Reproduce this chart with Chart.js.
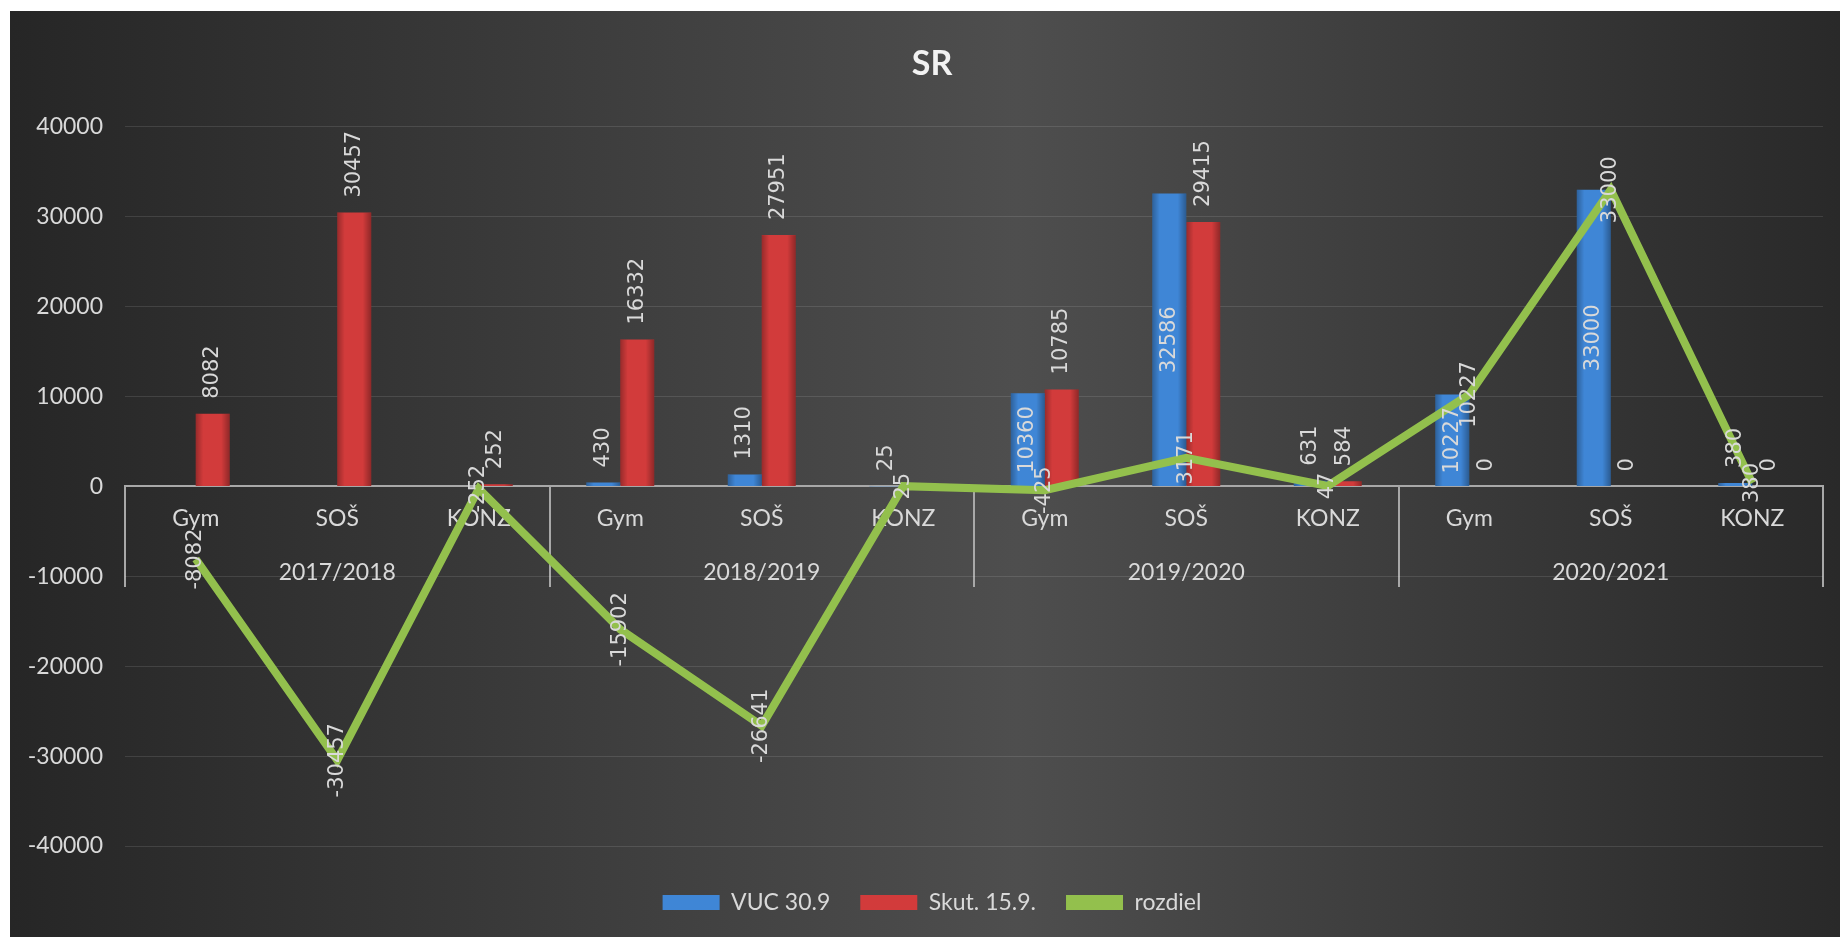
<!DOCTYPE html>
<html>
<head>
<meta charset="utf-8">
<script src="https://cdn.jsdelivr.net/npm/chart.js@4.4.0/dist/chart.umd.min.js"></script>
<style>
  html, body { margin: 0; padding: 0; background: #fff; }
  #wrap { position: absolute; left: 10px; top: 11px; width: 1830px; height: 926px; }
</style>
</head>
<body>
<div id="wrap"><canvas id="graf" width="1830" height="926"></canvas></div>
<script>
//------------------------------------------------- DATA -----------------------------------------------------
let skoly = ['Gym', 'SOŠ', 'KONZ', 'Gym', 'SOŠ', 'KONZ', 'Gym', 'SOŠ', 'KONZ', 'Gym', 'SOŠ', 'KONZ']
let roky = ['2017/2018', '2018/2019', '2019/2020', '2020/2021']
let vuc = [null, null, null, 430, 1310, 25, 10360, 32586, 631, 10227, 33000, 380]
let skut = [8082, 30457, 252, 16332, 27951, null, 10785, 29415, 584, 0, 0, 0]
let rozdiel = [-8082, -30457, -252, -15902, -26641, 25, -425, 3171, 47, 10227, 33000, 380]
let osMin = -40000
let osMax = 40000
let osKrok = 10000

const farbaTextu = '#d9d9d9'
const pismo = 'Lato'

// pozadie grafu (tmavy prechod)
const pozadie = {
    id: 'pozadie',
    beforeDraw(chart) {
        const { ctx, width, height } = chart
        const g = ctx.createLinearGradient(0, 0, width, 0)
        g.addColorStop(0, '#262626')
        g.addColorStop(0.55, '#4e4e4e')
        g.addColorStop(1, '#292929')
        ctx.save()
        ctx.fillStyle = g
        ctx.fillRect(0, 0, width, height)
        ctx.restore()
    },
    // popisky osi Y sa nesmu orezat
    afterLayout(chart) {
        chart.scales.y.left = 0
    }
}

// tien na okrajoch stlpcov
const tien = {
    id: 'tien',
    afterDatasetDraw(chart, args) {
        const meta = args.meta
        if (meta.type !== 'bar') return
        const ctx = chart.ctx
        ctx.save()
        meta.data.forEach((el, j) => {
            if (chart.data.datasets[args.index].data[j] === null) return
            const w = el.width
            const g = ctx.createLinearGradient(el.x - w / 2, 0, el.x + w / 2, 0)
            g.addColorStop(0, 'rgba(0,0,0,0.28)')
            g.addColorStop(0.22, 'rgba(0,0,0,0)')
            g.addColorStop(0.75, 'rgba(0,0,0,0)')
            g.addColorStop(1, 'rgba(0,0,0,0.32)')
            ctx.fillStyle = g
            ctx.fillRect(el.x - w / 2, Math.min(el.y, el.base), w, Math.abs(el.base - el.y))
        })
        ctx.restore()
    }
}

// popisky hodnot (otocene o 90 stupnov)
const popisky = {
    id: 'popisky',
    afterDatasetsDraw(chart) {
        const ctx = chart.ctx
        ctx.save()
        ctx.font = '21px "DejaVu Sans"'
        ctx.fillStyle = farbaTextu
        ctx.textBaseline = 'middle'
        chart.data.datasets.forEach((ds, i) => {
            const meta = chart.getDatasetMeta(i)
            meta.data.forEach((el, j) => {
                const v = ds.data[j]
                if (v === null) return
                const txt = String(v)
                const w = ctx.measureText(txt).width
                let y, align
                if (meta.type === 'line') {
                    y = el.y
                    align = 'center'
                } else {
                    const h = el.base - el.y
                    if (i === 0 && h > w + 12) {
                        y = (el.y + el.base) / 2
                        align = 'center'
                    } else {
                        y = el.y - 15
                        align = 'left'
                    }
                }
                ctx.save()
                ctx.translate(el.x, y)
                ctx.rotate(-Math.PI / 2)
                ctx.textAlign = align
                ctx.fillText(txt, 0, 0)
                ctx.restore()
            })
        })
        ctx.restore()
    }
}

const canvas = document.getElementById('graf')
const ctx = canvas.getContext('2d')

const config = {
    type: 'bar',
    data: {
        labels: skoly,
        datasets: [{
            label: 'VUC 30.9',
            data: vuc,
            backgroundColor: '#3f86d6',
            order: 1
        }, {
            label: 'Skut. 15.9.',
            data: skut,
            backgroundColor: '#d23b3b',
            order: 1
        }, {
            type: 'line',
            label: 'rozdiel',
            data: rozdiel,
            borderColor: '#93c04d',
            backgroundColor: '#93c04d',
            borderWidth: 8,
            borderJoinStyle: 'miter',
            pointRadius: 0,
            tension: 0,
            order: 0
        }]
    },
    options: {
        responsive: false,
        animation: false,
        layout: { padding: { left: 31, right: 17, top: 0, bottom: 13 } },
        datasets: {
            bar: { categoryPercentage: 0.48, barPercentage: 1.0 }
        },
        scales: {
            x: {
                position: { y: 0 },
                grid: { display: true, drawOnChartArea: false, drawTicks: false },
                border: { display: true, color: '#a8a8a8', width: 2 },
                ticks: {
                    color: farbaTextu, font: { family: pismo, size: 23 },
                    padding: 18, autoSkip: false, maxRotation: 0
                }
            },
            x2: {
                type: 'category',
                labels: roky,
                offset: true,
                position: { y: 0 },
                grid: {
                    display: true, offset: true, drawOnChartArea: false,
                    drawTicks: true, tickLength: 101, color: '#a8a8a8', lineWidth: 2
                },
                border: { display: false },
                ticks: {
                    color: farbaTextu, font: { family: pismo, size: 23 },
                    padding: -29, autoSkip: false, maxRotation: 0
                }
            },
            y: {
                min: osMin,
                max: osMax,
                afterFit(scale) { scale.width = 84 },
                grid: { color: 'rgba(255,255,255,0.11)', lineWidth: 1, drawTicks: false },
                border: { display: false },
                ticks: {
                    stepSize: osKrok,
                    callback: (v) => String(v),
                    color: farbaTextu, font: { family: pismo, size: 23 },
                    padding: 22
                }
            }
        },
        plugins: {
            title: {
                display: true,
                text: 'SR',
                color: '#f2f2f2',
                font: { family: pismo, size: 34, weight: 'bold' },
                padding: { top: 33, bottom: 42 }
            },
            legend: {
                position: 'bottom',
                title: { display: true, text: '', font: { size: 10 }, padding: { top: 0, bottom: 3 } },
                labels: {
                    color: farbaTextu,
                    font: { family: pismo, size: 23 },
                    boxWidth: 57,
                    boxHeight: 15,
                    padding: 30,
                    sort: (a, b) => a.datasetIndex - b.datasetIndex,
                    generateLabels(chart) {
                        const items = Chart.defaults.plugins.legend.labels.generateLabels(chart)
                        return items.map(it => Object.assign(it, { lineWidth: 0 }))
                    }
                }
            },
            tooltip: { enabled: false }
        }
    },
    plugins: [pozadie, tien, popisky]
}

const chart = new Chart(ctx, config)
</script>
</body>
</html>
